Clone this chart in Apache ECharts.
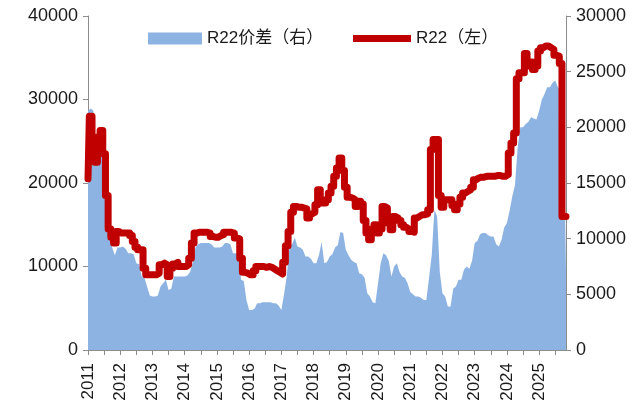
<!DOCTYPE html>
<html>
<head>
<meta charset="utf-8">
<script src="https://cdn.jsdelivr.net/npm/echarts@6.0.0/dist/echarts.min.js"></script>
<style>
  html, body { margin: 0; padding: 0; background: #fff; }
  #chart { width: 644px; height: 407px; }
</style>
</head>
<body>
<div id="chart"></div>
<script>
// 月度数据：2011-01 ~ 2025-11
const startYear = 2011
const monthCount = 179
const months = []
for (let i = 0; i < monthCount; i++) {
  const y = startYear + Math.floor(i / 12)
  const m = (i % 12) + 1
  months.push(y + '-' + (m < 10 ? '0' + m : m))
}

// R22价差（右轴）
const spread = [
  21500, 21700, 21500, 17000, 17500, 19000, 18500, 15500, 10100, 9200, 8500, 9200,
  9200, 9300, 9100, 8700, 8700, 8600, 7800, 7700, 6600, 6500, 5700, 4900,
  4800, 4800, 4900, 5700, 6000, 6300, 5400, 5500, 6600, 6600, 6600, 6600,
  6600, 6700, 7000, 7800, 9200, 9500, 9600, 9600, 9600, 9600, 9500, 9200,
  9200, 9200, 9300, 9600, 9600, 9500, 8700, 8700, 8600, 6300, 6200, 4500,
  3600, 3600, 3700, 4200, 4200, 4300, 4300, 4300, 4300, 4200, 4200, 4000,
  3600, 5000, 6600, 9200, 9500, 10100, 9300, 9200, 9000, 8400, 8400, 8200,
  7800, 7800, 8500, 9700, 7800, 7900, 8400, 8600, 9200, 9400, 10600, 10500,
  9000, 8500, 8100, 7900, 7800, 6900, 6800, 6500, 5100, 4800, 4300, 4200,
  6000, 7800, 8700, 8500, 8000, 6600, 7500, 7800, 7000, 6600, 6500, 6000,
  5200, 5000, 4800, 4800, 4700, 4500, 4500, 6500, 8500, 12600, 12000, 7000,
  5100, 4800, 3900, 3900, 5500, 5700, 6300, 6300, 7200, 7500, 7300, 8000,
  9600, 9800, 10400, 10500, 10500, 10300, 10200, 10200, 9500, 9300, 9900, 11000,
  11400, 12500, 13800, 14800, 18200, 20000, 20000, 20300, 20500, 20900, 20800, 20700,
  21500, 22500, 23000, 23600, 23600, 24000, 24200, 23600, 23300, 23000, 6900
]

// R22（左轴）
const price = [
  20500, 28000, 25000, 22500, 25500, 26300, 23500, 18500, 14500, 13500, 12800, 14200,
  14000, 14000, 14000, 14000, 13700, 13000, 12300, 12000, 12000, 9800, 9000, 9000,
  9000, 9000, 9200, 10200, 10400, 10200, 8800, 9800, 10300, 10500, 10000, 10000,
  10000, 10200, 11000, 12800, 14000, 14100, 14100, 14100, 14100, 14000, 13600, 13500,
  13500, 13700, 13800, 14100, 14100, 14100, 14000, 13400, 13300, 11000, 9300, 9200,
  9000, 9000, 9500, 10000, 10000, 10000, 9900, 10000, 9900, 9700, 9500, 9300,
  9100, 10500, 12500, 14200, 16500, 17200, 17100, 17100, 17000, 16900, 15800, 16300,
  16500, 17400, 19200, 17600, 17600, 18000, 18800, 19600, 20800, 21800, 23000, 21500,
  19500, 18300, 18200, 18000, 17200, 17800, 17500, 15500, 14000, 13200, 14500, 15000,
  14000, 14500, 17200, 17000, 15200, 14400, 16000, 15800, 15500, 15000, 14700, 14500,
  14200, 14100, 15800, 16000, 16200, 16200, 16300, 16800, 24000, 25200, 25200, 18500,
  17100, 18000, 18000, 18000, 17300, 16800, 17500, 18300, 18800, 19000, 19200, 19500,
  20400, 20600, 20700, 20700, 20800, 20800, 20800, 20800, 20900, 20900, 20800, 20800,
  21000, 23600, 24800, 26000, 32500, 33200, 33200, 35500, 34000, 34500, 33600, 34000,
  35800, 36200, 36400, 36400, 36200, 36000, 35300, 35200, 34300, 16000, 16000
]

const font = 'Liberation Sans, Arial, Noto Sans CJK SC, sans-serif'
const axisGray = '#8c8c8c'
const textColor = '#1a1a1a'
const plain = (v) => String(v)

const myChart = echarts.init(document.getElementById('chart'))
myChart.setOption({
  animation: false,
  textStyle: { fontFamily: font },
  grid: { left: 88, right: 78, top: 16, bottom: 57, outerBoundsMode: 'none' },
  legend: [
    {
      top: 25,
      left: 143,
      itemWidth: 54,
      itemHeight: 12,
      textStyle: { fontSize: 17, color: textColor, fontFamily: font },
      data: [{ name: 'R22价差（右）', icon: 'rect' }]
    },
    {
      top: 25,
      left: 348,
      itemWidth: 58,
      itemHeight: 12,
      textStyle: { fontSize: 17, color: textColor, fontFamily: font },
      data: [{ name: 'R22（左）', icon: 'path://M0,0 L58,0 L58,7 L0,7 Z' }]
    }
  ],
  xAxis: {
    type: 'category',
    boundaryGap: false,
    data: months,
    axisLine: { lineStyle: { color: axisGray, width: 1 } },
    axisTick: {
      interval: (i) => i % 6 === 0,
      length: 5,
      lineStyle: { color: axisGray }
    },
    axisLabel: {
      interval: (i) => i % 12 === 0,
      rotate: 90,
      margin: 13,
      fontSize: 17,
      color: textColor,
      formatter: (v) => v.slice(0, 4)
    },
    splitLine: { show: false }
  },
  yAxis: [
    {
      type: 'value',
      min: 0,
      max: 40000,
      interval: 10000,
      axisLine: { show: true, lineStyle: { color: axisGray } },
      axisTick: { show: true, length: 5, lineStyle: { color: axisGray } },
      axisLabel: { fontSize: 18, color: textColor, margin: 10, formatter: plain },
      splitLine: { show: false }
    },
    {
      type: 'value',
      min: 0,
      max: 30000,
      interval: 5000,
      axisLine: { show: true, lineStyle: { color: axisGray } },
      axisTick: { show: true, length: 5, lineStyle: { color: axisGray } },
      axisLabel: { fontSize: 18, color: textColor, margin: 10, formatter: plain },
      splitLine: { show: false }
    }
  ],
  series: [
    {
      name: 'R22价差（右）',
      type: 'line',
      yAxisIndex: 1,
      data: spread,
      symbol: 'none',
      lineStyle: { width: 0 },
      itemStyle: { color: '#8db3e2' },
      areaStyle: { color: '#8db3e2', opacity: 1 },
      z: 1
    },
    {
      name: 'R22（左）',
      type: 'line',
      yAxisIndex: 0,
      data: price,
      step: 'middle',
      symbol: 'none',
      lineStyle: { width: 7, color: '#c00000', join: 'round', cap: 'round' },
      itemStyle: { color: '#c00000' },
      z: 3
    }
  ]
})
</script>
</body>
</html>
